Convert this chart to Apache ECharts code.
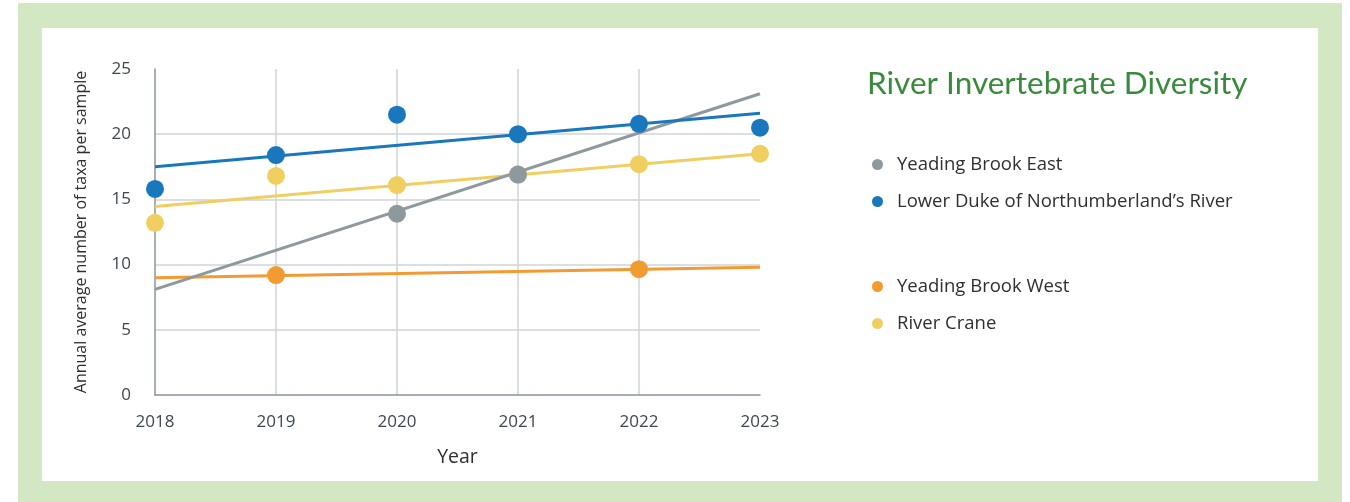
<!DOCTYPE html>
<html>
<head>
<meta charset="utf-8">
<title>River Invertebrate Diversity</title>
<script src="https://cdn.jsdelivr.net/npm/echarts@6/dist/echarts.min.js"></script>
<style>
  html, body { margin: 0; padding: 0; background: #ffffff; }
  #chart { width: 1350px; height: 502px; }
</style>
</head>
<body>
<div id="chart"></div>
<script>
// Survey years (x axis ticks)
const years = [2018, 2019, 2020, 2021, 2022, 2023];
const yTicks = [0, 5, 10, 15, 20, 25];

// Annual average number of taxa per sample (null = no survey that year)
const eastValues  = [null, null, 13.9, 16.9, null, null];
const dukeValues  = [15.8, 18.4, 21.5, 20.0, 20.8, 20.5];
const westValues  = [null, 9.2, null, null, 9.65, null];
const craneValues = [13.2, 16.8, 16.1, 16.9, 17.7, 18.5];

// Linear trend lines: value at first and last year
const trendYears = [2018, 2023];
const eastTrend  = [8.1, 23.1];
const dukeTrend  = [17.5, 21.6];
const westTrend  = [9.0, 9.8];
const craneTrend = [14.45, 18.5];

const names = {
  east: 'Yeading Brook East',
  duke: 'Lower Duke of Northumberland\u2019s River',
  west: 'Yeading Brook West',
  crane: 'River Crane'
};
const colors = {
  east: '#8e999e',
  duke: '#1877bd',
  west: '#f39b33',
  crane: '#f0cf60'
};

function pairs(xs, ys) {
  const out = [];
  xs.forEach((x, i) => { if (ys[i] !== null) out.push([x, ys[i]]); });
  return out;
}

function trendSeries(key, values) {
  return {
    name: names[key] + ' trend',
    type: 'line',
    data: pairs(trendYears, values),
    symbol: 'none',
    lineStyle: { color: colors[key], width: 3 },
    z: 2,
    silent: true
  };
}

function pointSeries(key, values) {
  return {
    name: names[key],
    type: 'scatter',
    data: pairs(years, values),
    symbolSize: 18,
    itemStyle: { color: colors[key], opacity: 1 },
    z: 3
  };
}

const chart = echarts.init(document.getElementById('chart'), null, { renderer: 'canvas' });

const legendText = {
  color: '#2f2f2f',
  fontSize: 18.5,
  fontFamily: 'Open Sans',
  padding: [0, 0, 0, 9]
};

chart.setOption({
  animation: false,
  backgroundColor: '#ffffff',
  graphic: [
    { type: 'rect', z: -10, shape: { x: 18, y: 3, width: 1324, height: 510 }, style: { fill: '#d3e7c3' } },
    { type: 'rect', z: -9, shape: { x: 42, y: 28, width: 1276, height: 453 }, style: { fill: '#ffffff' } }
  ],
  title: {
    text: 'River Invertebrate Diversity',
    left: 862,
    top: 63,
    textStyle: { color: '#3a8a3d', fontSize: 31.5, fontWeight: 'normal', fontFamily: 'Lato' }
  },
  legend: [
    {
      data: [names.east, names.duke],
      orient: 'vertical',
      left: 867,
      top: 150,
      itemGap: 18,
      icon: 'circle',
      itemWidth: 11,
      itemHeight: 11,
      textStyle: legendText,
      selectedMode: false
    },
    {
      data: [names.west, names.crane],
      orient: 'vertical',
      left: 867,
      top: 272,
      itemGap: 18,
      icon: 'circle',
      itemWidth: 11,
      itemHeight: 11,
      textStyle: legendText,
      selectedMode: false
    }
  ],
  grid: { left: 155, right: 590, top: 69, bottom: 107 },
  xAxis: {
    type: 'value',
    min: years[0],
    max: years[years.length - 1],
    interval: 1,
    name: 'Year',
    nameLocation: 'middle',
    nameGap: 52,
    nameTextStyle: { color: '#2f2f2f', fontSize: 19.5, fontFamily: 'Open Sans' },
    axisLine: { show: true, lineStyle: { color: '#8a949a', width: 1.5 } },
    axisTick: { show: false },
    axisLabel: {
      color: '#3d4751',
      fontSize: 17,
      fontFamily: 'Open Sans',
      margin: 19,
      formatter: v => String(v)
    },
    splitLine: {
      show: true,
      showMinLine: false,
      showMaxLine: false,
      lineStyle: { color: '#cfd5d9', width: 1.5 }
    }
  },
  yAxis: {
    type: 'value',
    min: yTicks[0],
    max: yTicks[yTicks.length - 1],
    interval: 5,
    name: 'Annual average number of taxa per sample',
    nameLocation: 'middle',
    nameGap: 66,
    nameTextStyle: { color: '#2f2f2f', fontSize: 16, fontFamily: 'Open Sans' },
    axisLine: { show: true, lineStyle: { color: '#8a949a', width: 1.5 } },
    axisTick: { show: false },
    axisLabel: { color: '#3d4751', fontSize: 17, fontFamily: 'Open Sans', margin: 24 },
    splitLine: {
      show: true,
      showMinLine: false,
      showMaxLine: false,
      lineStyle: { color: '#cfd5d9', width: 1.5 }
    }
  },
  series: [
    trendSeries('west', westTrend),
    trendSeries('crane', craneTrend),
    trendSeries('east', eastTrend),
    trendSeries('duke', dukeTrend),
    pointSeries('crane', craneValues),
    pointSeries('west', westValues),
    pointSeries('duke', dukeValues),
    pointSeries('east', eastValues)
  ]
});
</script>
</body>
</html>
